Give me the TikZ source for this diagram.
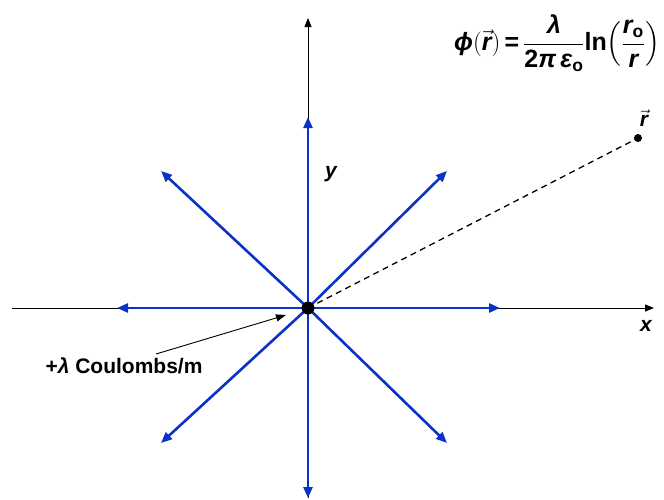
\documentclass[tikz,border=0pt]{standalone}
\usepackage{amsmath}
\usepackage{fontspec}
\setmainfont{Liberation Sans}
\usetikzlibrary{arrows.meta}

\definecolor{fieldblue}{RGB}{10,50,200}

\begin{document}
\begin{tikzpicture}[x=1pt,y=-1pt,
  axis/.style={-{Triangle[length=9pt,width=7pt]}, line width=0.9pt},
  field/.style={-{Triangle[length=11pt,width=9pt]}, line width=2.6pt, fieldblue},
  lbl/.style={font=\fontsize{21}{24}\selectfont\bfseries\itshape}]
\useasboundingbox (0,0) rectangle (664,499);

\coordinate (O) at (308,308);
\coordinate (xl) at (12,308);
\coordinate (xr) at (654,308);
\coordinate (yt) at (308,18);
\coordinate (yb) at (308,498);

% axes
\draw[axis] (xl) -- (xr);
\draw[axis] (yb) -- (yt);

% field lines
\draw[field] (O) -- (308,117);
\draw[field] (O) -- (308,498);
\draw[field] (O) -- (117,308);
\draw[field] (O) -- (500,308);
\draw[field] (O) -- (161,171);
\draw[field] (O) -- (447,171);
\draw[field] (O) -- (161,443);
\draw[field] (O) -- (447,443);

% field point
\coordinate (P) at (638,138);
\draw[dash pattern=on 6pt off 4.5pt, line width=1.3pt] (O) -- (P);
\fill (P) circle (4pt);
\node[lbl] (rvec) at (644,118) {$\vec{\text{\itshape r}}$};

\fill (O) circle (6.5pt);

\node[lbl] (ylab) at (331,174) {y};
\node[lbl] (xlab) at (646,326) {x};

% line charge
\node[font=\fontsize{21}{24}\selectfont\bfseries] (charge) at (124,366) {+$\text{\itshape λ}$ Coulombs/m};
\draw[-{Triangle[length=10pt,width=7pt]}, line width=0.9pt] (156,354) -- (286,315);

% potential
\node[font=\fontsize{25}{30}\selectfont\bfseries] (phi) at (557,43)
  {$\text{\itshape ϕ}(\vec{\text{\itshape r}})\,\text{=}\,\dfrac{\text{\itshape λ}}{\text{2\itshape π\,ε}_{\text{o}}}\text{ln}\!\left(\dfrac{\text{\itshape r}_{\text{o}}}{\text{\itshape r}}\right)$};
\end{tikzpicture}
\end{document}
